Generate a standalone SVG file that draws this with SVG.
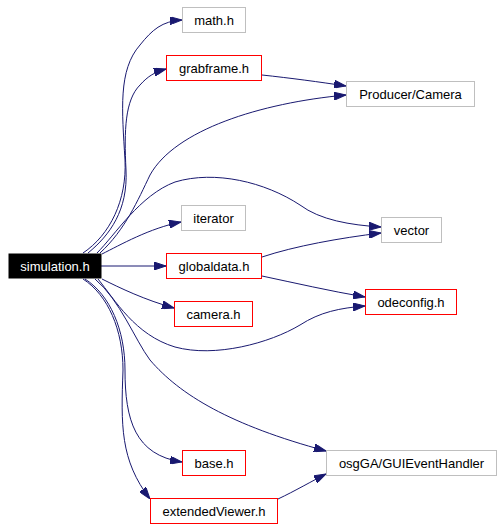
<svg xmlns="http://www.w3.org/2000/svg" width="503" height="529" viewBox="0 0 503 529">
<defs>
<style>
.n rect{fill:#fff;stroke-width:1}
.g rect{stroke:#bfbfbf}
.r rect{stroke:#ff0000}
text{font-family:"Liberation Sans",Arial,sans-serif;font-size:13px;text-anchor:middle;fill:#000}
#edges path{fill:none;stroke:#191970;stroke-width:1;marker-end:url(#ah)}
</style>
<marker id="ah" markerUnits="userSpaceOnUse" markerWidth="12" markerHeight="8" refX="12" refY="4" orient="auto">
<path d="M0,0 L12,4 L0,8 z" fill="#191970" stroke="#191970"/>
</marker>
</defs>
<rect width="503" height="529" fill="#fff"/>
<g id="edges">
<path d="M83,253 C110,235 127,200 125,160 C122,110 118,70 140,45 C152,30 162,21 182,20"/>
<path d="M88,253 C110,235 128,210 126,170 C124,130 125,100 140,85 C148,76 155,72 166,69"/>
<path d="M100,253 C125,230 138,200 150,175 C175,130 260,103 346,95"/>
<path d="M102,254 C120,245 150,228 181,222"/>
<path d="M101,266 L166,266"/>
<path d="M97,253 C115,235 140,195 175,182 C215,170 265,182 300,205 C320,220 350,225 381,227"/>
<path d="M102,279 C120,288 145,300 174,308"/>
<path d="M98,279 C115,300 135,335 175,347 C215,358 270,343 300,325 C320,312 340,308 365,306"/>
<path d="M85,279 C110,295 125,330 125,370 C125,420 135,455 182,462"/>
<path d="M83,279 C108,295 123,330 123,370 C121,425 120,460 150,499"/>
<path d="M95,279 C120,300 135,340 150,360 C180,395 230,425 326,451"/>
<path d="M262,75 C290,78 320,82 346,86"/>
<path d="M262,257 C295,246 340,238 381,233"/>
<path d="M262,276 C295,283 330,291 365,297"/>
<path d="M278,499 C295,491 312,481 326,474"/>
</g>
<g id="simulation"><rect x="9" y="254" width="92" height="24" fill="#000" stroke="#000"/><text x="55" y="270.5" fill="#fff" style="fill:#fff">simulation.h</text></g>
<g id="math" class="n g"><rect x="182.5" y="7.5" width="63" height="25"/><text x="214" y="24.5">math.h</text></g>
<g id="grabframe" class="n r"><rect x="166.5" y="55.5" width="95" height="25"/><text x="214" y="72.5">grabframe.h</text></g>
<g id="producer" class="n g"><rect x="346.5" y="81.5" width="128" height="25"/><text x="410.5" y="98.5">Producer/Camera</text></g>
<g id="iterator" class="n g"><rect x="181.5" y="205.5" width="64" height="25"/><text x="213.5" y="222.5">iterator</text></g>
<g id="globaldata" class="n r"><rect x="166.5" y="253.5" width="95" height="25"/><text x="214" y="270.5">globaldata.h</text></g>
<g id="vector" class="n g"><rect x="381.5" y="217.5" width="60" height="25"/><text x="411.5" y="234.5">vector</text></g>
<g id="camera" class="n r"><rect x="174.5" y="301.5" width="78" height="25"/><text x="213.5" y="318.5">camera.h</text></g>
<g id="odeconfig" class="n r"><rect x="365.5" y="289.5" width="91" height="25"/><text x="411" y="306.5">odeconfig.h</text></g>
<g id="base" class="n r"><rect x="182.5" y="450.5" width="63" height="25"/><text x="214" y="467.5">base.h</text></g>
<g id="extendedViewer" class="n r"><rect x="150.5" y="498.5" width="127" height="25"/><text x="214" y="515.5">extendedViewer.h</text></g>
<g id="osgGA" class="n g"><rect x="326.5" y="450.5" width="170" height="25"/><text x="411.5" y="467.5">osgGA/GUIEventHandler</text></g>
</svg>
